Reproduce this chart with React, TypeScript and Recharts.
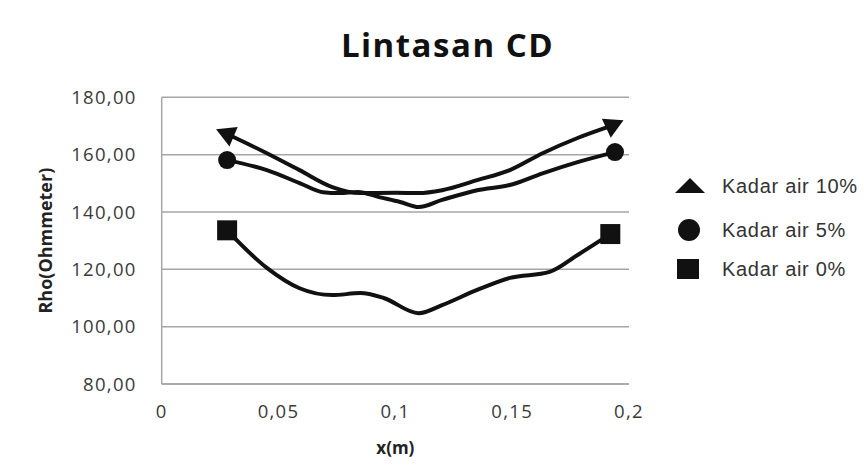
import React from 'react';
import { LineChart, Line, XAxis, YAxis, CartesianGrid, Legend } from 'recharts';

// Kadar air 10% (triangle / arrow)
const x10 = [0.028, 0.045, 0.059, 0.073, 0.085, 0.1, 0.11, 0.12, 0.135, 0.149, 0.163, 0.178, 0.193];
const rho10 = [167.2, 160.5, 154.6, 148.7, 146.6, 146.7, 146.6, 147.6, 151.1, 154.6, 160.5, 165.8, 170.2];

// Kadar air 5% (circle)
const x5 = [0.028, 0.045, 0.059, 0.069, 0.076, 0.084, 0.093, 0.102, 0.11, 0.12, 0.135, 0.149, 0.163, 0.178, 0.194];
const rho5 = [158.1, 154.6, 150.1, 146.9, 146.6, 147.0, 145.2, 143.5, 141.7, 144.2, 147.6, 149.4, 153.5, 157.4, 160.9];

// Kadar air 0% (square)
const x0 = [0.028, 0.045, 0.059, 0.073, 0.085, 0.095, 0.11, 0.12, 0.135, 0.149, 0.166, 0.178, 0.192];
const rho0 = [133.6, 120.5, 113.4, 111.0, 111.7, 110.0, 104.7, 107.5, 112.8, 117.0, 119.1, 125.0, 132.3];

const seriesNames = ['Kadar air 10%', 'Kadar air 5%', 'Kadar air 0%'];
const xTicks = [0, 0.05, 0.1, 0.15, 0.2];
const yTicks = [80, 100, 120, 140, 160, 180];

const toRows = (xs: number[], ys: number[]) => xs.map((x, i) => ({ x, y: ys[i] }));
const data10 = toRows(x10, rho10);
const data5 = toRows(x5, rho5);
const data0 = toRows(x0, rho0);

const fmtX = (v: number) => String(v).replace('.', ',');
const fmtY = (v: number) => v.toFixed(2).replace('.', ',');

const arrow = (cx: number, cy: number, angleDeg: number, key: string) => {
  const a = (angleDeg * Math.PI) / 180;
  const ux = Math.cos(a), uy = Math.sin(a);
  const px = -uy, py = ux;
  const tip = [cx + ux * 12, cy + uy * 12];
  const b1 = [cx - ux * 7 + px * 10.5, cy - uy * 7 + py * 10.5];
  const b2 = [cx - ux * 7 - px * 10.5, cy - uy * 7 - py * 10.5];
  return <polygon key={key} points={`${tip[0]},${tip[1]} ${b1[0]},${b1[1]} ${b2[0]},${b2[1]}`} fill="#111" />;
};

const makeDot = (shape: string, n: number) => (props: any) => {
  const { cx, cy, index } = props;
  const key = `${shape}-${index}`;
  if (index !== 0 && index !== n - 1) return <g key={key} />;
  if (shape === 'triangle') return arrow(cx, cy, index === 0 ? 203 : -25, key);
  if (shape === 'circle') return <circle key={key} cx={cx} cy={cy} r={9} fill="#111" />;
  return <rect key={key} x={cx - 10} y={cy - 10} width={20} height={20} fill="#111" />;
};

const legendIcons = ['triangle', 'circle', 'square'];

const renderLegend = () => (
  <svg width={196} height={110} style={{ display: 'block' }}>
    {seriesNames.map((name, i) => {
      const cy = [16, 60, 99][i];
      const icon = legendIcons[i];
      return (
        <g key={name}>
          {icon === 'triangle' && <polygon points={`7,${cy + 7} 37,${cy + 7} 22,${cy - 8}`} fill="#111" />}
          {icon === 'circle' && <circle cx={21} cy={cy} r={11} fill="#111" />}
          {icon === 'square' && <rect x={9} y={cy - 10} width={22} height={20} fill="#111" />}
          <text x={54} y={cy + 7} fontFamily="'Liberation Sans', Arial, sans-serif" fontSize={20} letterSpacing={0.7} fill="#333">
            {name}
          </text>
        </g>
      );
    })}
  </svg>
);

const tickStyle = { fontFamily: "'Open Sans', sans-serif", fontSize: 18.5, fill: '#3a3a3a', letterSpacing: 1.3 };

export default function App() {
  return (
    <div style={{ position: 'absolute', left: 0, top: 0, width: 864, height: 468, background: '#fff' }}>
      <div
        style={{
          position: 'absolute',
          left: 0,
          width: 895,
          top: 22,
          textAlign: 'center',
          fontFamily: "'Open Sans', sans-serif",
          fontWeight: 700,
          fontSize: 33,
          letterSpacing: 1.5,
          color: '#111',
          lineHeight: '46px',
        }}
      >
        Lintasan CD
      </div>
      <LineChart
        width={864}
        height={468}
        margin={{ top: 97.3, right: 39, bottom: 10, left: 31.7 }}
      >
        <CartesianGrid horizontal vertical={false} stroke="#a6a6a6" strokeWidth={1.5} />
        <XAxis
          type="number"
          dataKey="x"
          domain={[0, 0.2]}
          ticks={xTicks}
          tickFormatter={fmtX}
          allowDataOverflow
          height={74}
          tickLine={false}
          tickSize={0}
          tickMargin={21}
          axisLine={{ stroke: '#a6a6a6', strokeWidth: 1.5 }}
          tick={tickStyle}
          label={{
            value: 'x(m)',
            position: 'insideBottom',
            offset: 4,
            style: { fontFamily: "'Open Sans', sans-serif", fontWeight: 700, fontSize: 17, fill: '#222', textAnchor: 'middle' },
          }}
        />
        <YAxis
          type="number"
          domain={[80, 180]}
          ticks={yTicks}
          tickFormatter={fmtY}
          width={130}
          tickLine={false}
          tickSize={0}
          tickMargin={25}
          axisLine={{ stroke: '#a6a6a6', strokeWidth: 1.5 }}
          tick={tickStyle}
          label={{
            value: 'Rho(Ohmmeter)',
            angle: -90,
            position: 'insideLeft',
            offset: 14,
            style: { fontFamily: "'Open Sans', sans-serif", fontWeight: 700, fontSize: 18, fill: '#222', textAnchor: 'middle' },
          }}
        />
        <Legend
          layout="vertical"
          verticalAlign="top"
          align="right"
          content={renderLegend}
          wrapperStyle={{ left: 668, top: 170, width: 196, height: 110 }}
        />
        <Line
          data={data10}
          dataKey="y"
          name={seriesNames[0]}
          type="monotone"
          stroke="#111"
          strokeWidth={4}
          dot={makeDot('triangle', data10.length)}
          activeDot={false}
          isAnimationActive={false}
        />
        <Line
          data={data5}
          dataKey="y"
          name={seriesNames[1]}
          type="monotone"
          stroke="#111"
          strokeWidth={4}
          dot={makeDot('circle', data5.length)}
          activeDot={false}
          isAnimationActive={false}
        />
        <Line
          data={data0}
          dataKey="y"
          name={seriesNames[2]}
          type="monotone"
          stroke="#111"
          strokeWidth={4}
          dot={makeDot('square', data0.length)}
          activeDot={false}
          isAnimationActive={false}
        />
      </LineChart>
    </div>
  );
}
